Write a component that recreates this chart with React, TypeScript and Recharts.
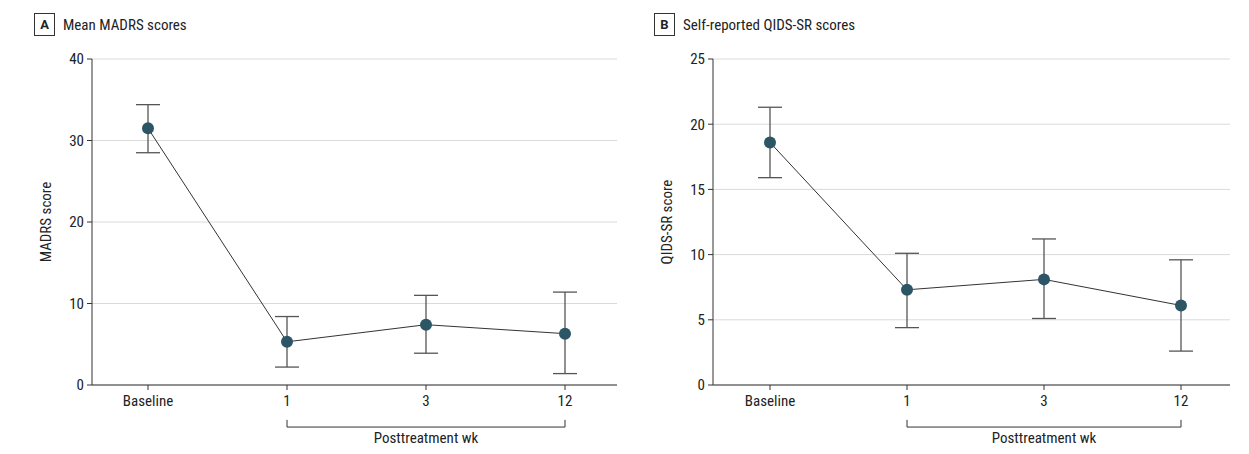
import { LineChart, Line, XAxis, YAxis, CartesianGrid, ErrorBar, ReferenceLine } from 'recharts'

// ─── Data ─────────────────────────────────────────────────────────────────────

const timepoints = ['Baseline', '1', '3', '12']

const madrsMean = [31.5, 5.3, 7.4, 6.3]
const madrsLow = [28.5, 2.2, 3.9, 1.4]
const madrsHigh = [34.4, 8.4, 11.0, 11.4]
const madrsTicks = [0, 10, 20, 30, 40]

const qidsMean = [18.6, 7.3, 8.1, 6.1]
const qidsLow = [15.9, 4.4, 5.1, 2.6]
const qidsHigh = [21.3, 10.1, 11.2, 9.6]
const qidsTicks = [0, 5, 10, 15, 20, 25]

const FONT = "'Liberation Sans Narrow', 'Roboto Condensed', 'Arial Narrow', sans-serif"
const DOT = '#2c5566'
const INK = '#333'

// ─── Panel ────────────────────────────────────────────────────────────────────

interface PanelProps {
  letter: string
  title: string
  yLabel: string
  mean: number[]
  low: number[]
  high: number[]
  ticks: number[]
  width: number
  axisWidth: number
  padLeft: number
  padRight: number
  marginRight: number
}

function Panel({ letter, title, yLabel, mean, low, high, ticks, width, axisWidth, padLeft, padRight, marginRight }: PanelProps) {
  const data = timepoints.map((label, i) => ({
    label,
    mean: mean[i],
    err: [mean[i] - low[i], high[i] - mean[i]],
  }))
  const max = ticks[ticks.length - 1]
  // bracket under the post-treatment weeks, in axis units
  const barY = -max * 0.129
  const capY = -max * 0.107

  return (
    <div style={{ position: 'relative', width, height: 454, fontFamily: FONT }}>
      <div style={{ position: 'absolute', left: 34, top: 13, display: 'flex', alignItems: 'center', gap: 8 }}>
        <span style={{
          border: `1px solid ${INK}`, width: 21, height: 23, boxSizing: 'border-box',
          display: 'flex', alignItems: 'center', justifyContent: 'center',
          fontWeight: 700, fontSize: 13, color: '#222', fontFamily: 'Roboto, sans-serif',
        }}>{letter}</span>
        <span style={{ fontSize: 15, color: '#222' }}>{title}</span>
      </div>
      <LineChart width={width} height={454} data={data} margin={{ top: 59, right: marginRight, bottom: 39, left: 0 }}>
        <CartesianGrid vertical={false} stroke="#dadada" />
        <XAxis
          dataKey="label"
          padding={{ left: padLeft, right: padRight }}
          tick={{ fontSize: 15, fill: '#222' }}
          tickSize={5}
          tickMargin={5}
          axisLine={{ stroke: INK }}
          tickLine={{ stroke: INK }}
        />
        <YAxis
          domain={[0, max]}
          ticks={ticks}
          width={axisWidth}
          tick={{ fontSize: 15, fill: '#222' }}
          tickSize={5}
          tickMargin={3}
          axisLine={{ stroke: INK }}
          tickLine={{ stroke: INK }}
          label={{ value: yLabel, angle: -90, position: 'center', fontSize: 15, fill: '#222' }}
        />
        <ReferenceLine
          segment={[{ x: '1', y: barY }, { x: '12', y: barY }]}
          ifOverflow="visible"
          stroke={INK}
          label={{ value: 'Posttreatment wk', position: 'bottom', offset: 5, fontSize: 15, fill: '#222' }}
        />
        <ReferenceLine segment={[{ x: '1', y: capY }, { x: '1', y: barY }]} ifOverflow="visible" stroke={INK} />
        <ReferenceLine segment={[{ x: '12', y: capY }, { x: '12', y: barY }]} ifOverflow="visible" stroke={INK} />
        <Line
          dataKey="mean"
          type="linear"
          stroke={INK}
          strokeWidth={1}
          dot={{ r: 6, fill: DOT, stroke: 'none' }}
          activeDot={false}
          isAnimationActive={false}
        >
          <ErrorBar dataKey="err" direction="y" width={12} stroke="#555" strokeWidth={1.3} />
        </Line>
      </LineChart>
    </div>
  )
}

// ─── App ──────────────────────────────────────────────────────────────────────

export default function App() {
  return (
    <div style={{ position: 'absolute', left: 0, top: 0, width: 1249, height: 454, background: '#fff', display: 'flex' }}>
      <Panel
        letter="A" title="Mean MADRS scores" yLabel="MADRS score"
        mean={madrsMean} low={madrsLow} high={madrsHigh} ticks={madrsTicks}
        width={620} axisWidth={92} padLeft={56} padRight={52} marginRight={3}
      />
      <Panel
        letter="B" title="Self-reported QIDS-SR scores" yLabel="QIDS-SR score"
        mean={qidsMean} low={qidsLow} high={qidsHigh} ticks={qidsTicks}
        width={629} axisWidth={93} padLeft={57} padRight={49} marginRight={19}
      />
    </div>
  )
}
